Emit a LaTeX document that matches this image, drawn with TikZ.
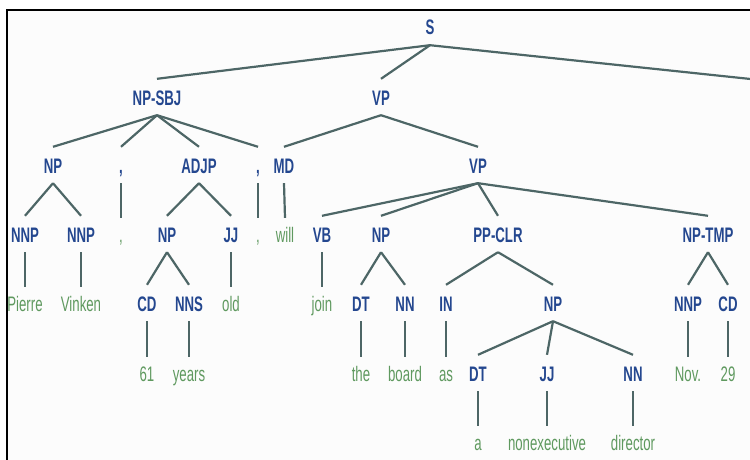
\documentclass[tikz,border=0pt]{standalone}
\usepackage{fontspec}
\newfontfamily\labfont[FakeStretch=0.63]{Liberation Sans}
\definecolor{tagblue}{HTML}{24478F}
\definecolor{wordgreen}{HTML}{5F995F}
\definecolor{linecol}{HTML}{4D6666}
\definecolor{paper}{HTML}{FCFCFC}
\begin{document}
\begin{tikzpicture}[x=1pt,y=-1pt,
  tag/.style={text=tagblue, font=\labfont\bfseries\fontsize{21}{21}\selectfont,
    inner xsep=1pt, inner ysep=10pt, text height=16pt, text depth=0pt},
  word/.style={tag, text=wordgreen, font=\labfont\fontsize{21}{21}\selectfont, inner ysep=8pt},
  edge/.style={draw=linecol, line width=2.2pt}]
\useasboundingbox (0,0) rectangle (750,460);
\clip (0,0) rectangle (750,460);
\fill[paper] (7,10) rectangle (760,470);
\draw[line width=2.5pt] (7,470) -- (7,10) -- (760,10);
% level 0
\node[tag] (S) at (430,27) {S};
% level 1
\node[tag] (npsbj) at (157,97) {NP-SBJ};
\node[tag] (vp1) at (381,97) {VP};
\coordinate (off) at (760,80);
% level 2
\node[tag] (np1) at (53,165) {NP};
\node[tag] (c1) at (121,165) {,};
\node[tag] (adjp) at (199,165) {ADJP};
\node[tag] (c2) at (258,165) {,};
\node[tag] (md) at (284,165) {MD};
\node[tag] (vp2) at (478,165) {VP};
% level 3
\node[tag] (nnp1) at (25,234) {NNP};
\node[tag] (nnp2) at (81,234) {NNP};
\node[word] (c1w) at (121,234) {,};
\node[tag] (np2) at (167,234) {NP};
\node[tag] (jj1) at (231,234) {JJ};
\node[word] (c2w) at (258,234) {,};
\node[word] (will) at (285,234) {will};
\node[tag] (vb) at (322,234) {VB};
\node[tag] (np3) at (381,234) {NP};
\node[tag] (ppclr) at (498,234) {PP-CLR};
\node[tag] (nptmp) at (708,234) {NP-TMP};
% level 4
\node[word] (pierre) at (25,303) {Pierre};
\node[word] (vinken) at (81,303) {Vinken};
\node[tag] (cd1) at (147,303) {CD};
\node[tag] (nns) at (189,303) {NNS};
\node[word] (old) at (231,303) {old};
\node[word] (join) at (322,303) {join};
\node[tag] (dt1) at (361,303) {DT};
\node[tag] (nn1) at (405,303) {NN};
\node[tag] (in) at (446,303) {IN};
\node[tag] (np4) at (553,303) {NP};
\node[tag] (nnp3) at (688,303) {NNP};
\node[tag] (cd2) at (728,303) {CD};
% level 5
\node[word] (w61) at (147,373) {61};
\node[word] (years) at (189,373) {years};
\node[word] (the) at (361,373) {the};
\node[word] (board) at (405,373) {board};
\node[word] (as) at (446,373) {as};
\node[tag] (dt2) at (478,373) {DT};
\node[tag] (jj2) at (547,373) {JJ};
\node[tag] (nn2) at (633,373) {NN};
\node[word] (nov) at (688,373) {Nov.};
\node[word] (w29) at (728,373) {29};
% level 6
\node[word] (a) at (478,442) {a};
\node[word] (nonexec) at (547,442) {nonexecutive};
\node[word] (director) at (633,442) {director};
% edges
\draw[edge] (S.south) -- (npsbj.north);
\draw[edge] (S.south) -- (vp1.north);
\draw[edge] (S.south) -- (off);
\foreach \c in {np1,c1,adjp,c2} \draw[edge] (npsbj.south) -- (\c.north);
\foreach \c in {nnp1,nnp2} \draw[edge] (np1.south) -- (\c.north);
\draw[edge] (nnp1.south) -- (pierre.north);
\draw[edge] (nnp2.south) -- (vinken.north);
\draw[edge] (c1.south) -- (c1w.north);
\foreach \c in {np2,jj1} \draw[edge] (adjp.south) -- (\c.north);
\foreach \c in {cd1,nns} \draw[edge] (np2.south) -- (\c.north);
\draw[edge] (cd1.south) -- (w61.north);
\draw[edge] (nns.south) -- (years.north);
\draw[edge] (jj1.south) -- (old.north);
\draw[edge] (c2.south) -- (c2w.north);
\foreach \c in {md,vp2} \draw[edge] (vp1.south) -- (\c.north);
\draw[edge] (md.south) -- (will.north);
\foreach \c in {vb,np3,ppclr,nptmp} \draw[edge] (vp2.south) -- (\c.north);
\draw[edge] (vb.south) -- (join.north);
\foreach \c in {dt1,nn1} \draw[edge] (np3.south) -- (\c.north);
\draw[edge] (dt1.south) -- (the.north);
\draw[edge] (nn1.south) -- (board.north);
\foreach \c in {in,np4} \draw[edge] (ppclr.south) -- (\c.north);
\draw[edge] (in.south) -- (as.north);
\foreach \c in {dt2,jj2,nn2} \draw[edge] (np4.south) -- (\c.north);
\draw[edge] (dt2.south) -- (a.north);
\draw[edge] (jj2.south) -- (nonexec.north);
\draw[edge] (nn2.south) -- (director.north);
\foreach \c in {nnp3,cd2} \draw[edge] (nptmp.south) -- (\c.north);
\draw[edge] (nnp3.south) -- (nov.north);
\draw[edge] (cd2.south) -- (w29.north);
\end{tikzpicture}
\end{document}
